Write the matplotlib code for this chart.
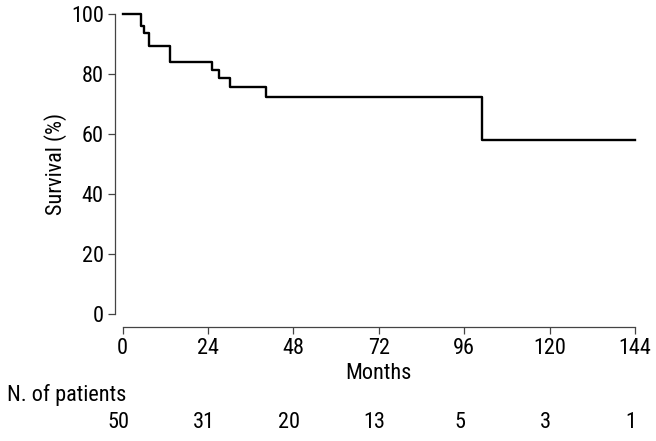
import matplotlib
matplotlib.use('Agg')
import matplotlib.pyplot as plt
import matplotlib.transforms as mtransforms

plt.rcParams['font.family'] = ['Roboto Condensed', 'DejaVu Sans']

# Kaplan-Meier steps
months = [0, 5.3, 6.1, 7.4, 13.3, 25.1, 27.1, 30.2, 40.2, 100.9, 144]
survival = [100, 96.0, 93.6, 89.2, 84.1, 81.3, 78.6, 75.8, 72.4, 58.0, 58.0]

# number at risk row
risk_months = [0, 24, 48, 72, 96, 120, 144]
at_risk = [50, 31, 20, 13, 5, 3, 1]

fs = 16
axis_col = '#444444'

fig = plt.figure(figsize=(6.56, 4.41), dpi=100)
W, H = 656, 441
# x=0 at px 122.5, x=144 at px 635; y=100 at px 14, y=0 at px 314
ax = fig.add_axes([122.5 / W, (H - 314) / H, 512.5 / W, 300 / H])

ax.step(months, survival, where='post', color='black', lw=1.7, clip_on=False)

ax.set_xlim(0, 144)
ax.set_ylim(0, 100)
ax.set_xticks(risk_months)
ax.set_yticks([0, 20, 40, 60, 80, 100])

for s in ['top', 'right']:
    ax.spines[s].set_visible(False)
ax.spines['left'].set_position(('outward', 5.5))
ax.spines['bottom'].set_position(('outward', 9.5))
ax.spines['left'].set_bounds(0, 100)
ax.spines['bottom'].set_bounds(0, 144)
for s in ['left', 'bottom']:
    ax.spines[s].set_color(axis_col)
    ax.spines[s].set_linewidth(0.9)

ax.tick_params(axis='both', direction='out', length=5, width=0.9,
               color=axis_col, labelsize=fs, pad=3)

ax.set_xlabel('Months', fontsize=fs, labelpad=3)
ax.set_ylabel('Survival (%)', fontsize=fs, labelpad=3)

# number at risk table
fig.text(7 / W, 1 - 395 / H, 'N. of patients', fontsize=fs, ha='left', va='center')
trans = mtransforms.blended_transform_factory(ax.transData, fig.transFigure)
trans = mtransforms.offset_copy(trans, fig=fig, x=-4, y=0, units='dots')
for m, n in zip(risk_months, at_risk):
    ax.text(m, 1 - 422 / H, str(n), transform=trans, fontsize=fs,
            ha='center', va='center', clip_on=False)

fig.savefig('out.png', dpi=100)
